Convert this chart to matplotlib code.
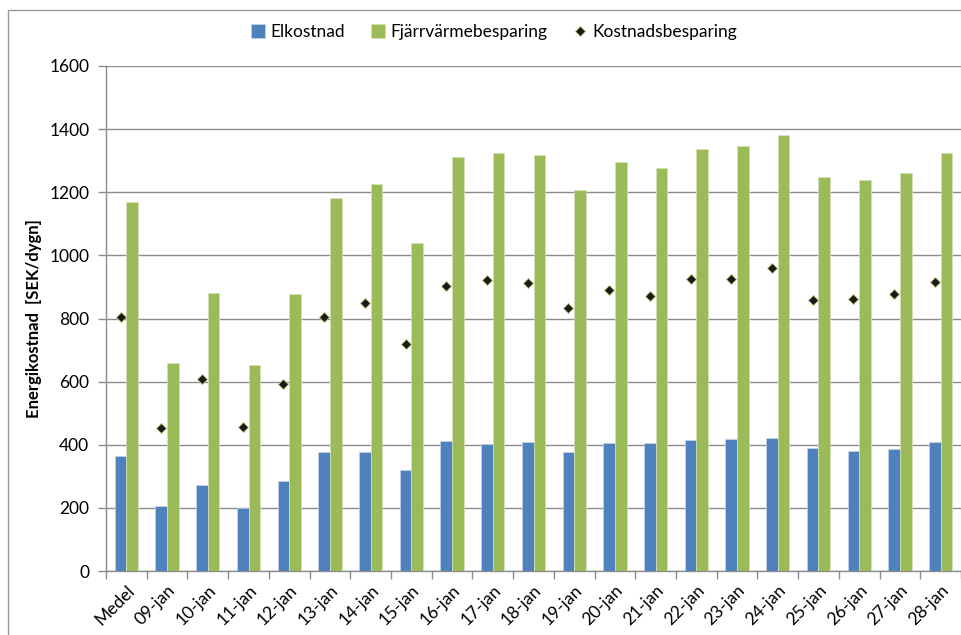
import numpy as np
import matplotlib
matplotlib.use("Agg")
import matplotlib.pyplot as plt
from matplotlib.patches import Rectangle

plt.rcParams['font.family'] = ['Lato', 'DejaVu Sans']

categories = ["Medel", "09-jan", "10-jan", "11-jan", "12-jan", "13-jan", "14-jan",
              "15-jan", "16-jan", "17-jan", "18-jan", "19-jan", "20-jan", "21-jan",
              "22-jan", "23-jan", "24-jan", "25-jan", "26-jan", "27-jan", "28-jan"]
elkostnad = [364, 207, 271, 200, 286, 376, 378, 320, 411, 403, 410, 376, 405, 405,
             414, 419, 422, 391, 380, 385, 410]
fjarrvarme = [1169, 659, 880, 653, 878, 1181, 1225, 1038, 1312, 1325, 1319, 1208,
              1295, 1276, 1336, 1345, 1382, 1248, 1240, 1261, 1323]
kostnadsbesparing = [806, 454, 609, 455, 592, 806, 849, 720, 903, 923, 911, 833,
                     889, 870, 924, 926, 960, 860, 861, 877, 916]
yticks = [0, 200, 400, 600, 800, 1000, 1200, 1400, 1600]

W, H = 962, 635
fig = plt.figure(figsize=(W / 100, H / 100), dpi=100)
ax = fig.add_axes([106 / W, (H - 571) / H, 855 / W, 505 / H])

x = np.arange(len(categories))
bw = 0.287
blue = "#4f81bd"
green = "#9bbb59"
b1 = ax.bar(x - bw / 2, elkostnad, bw, color=blue, edgecolor="#c5d5ea", linewidth=0.5,
            label="Elkostnad", zorder=3)
b2 = ax.bar(x + bw / 2, fjarrvarme, bw, color=green, edgecolor="#d4e3b8", linewidth=0.5,
            label="Fjärrvärmebesparing", zorder=3)
l1, = ax.plot(x - bw / 2, kostnadsbesparing, linestyle="none", marker="D", markersize=5.5,
              markerfacecolor="#1a1a1a", markeredgecolor="#b5c86a", markeredgewidth=0.6,
              label="Kostnadsbesparing", zorder=4)

fs = 12.5
ax.set_xlim(-0.5, len(categories) - 0.5)
ax.set_ylim(0, 1600)
ax.set_yticks(yticks)
ax.set_yticklabels([str(v) for v in yticks], fontsize=fs)
ax.yaxis.grid(True, color="#8c8c8c", linewidth=1.0, zorder=0)
ax.set_axisbelow(True)

ax.set_xticks(x)
ax.set_xticklabels(categories, rotation=45, ha="right", rotation_mode="anchor",
                   fontsize=fs)
ax.set_xticks(np.arange(len(categories) + 1) - 0.5, minor=True)
ax.tick_params(axis="x", which="major", length=0, pad=8)
ax.tick_params(axis="x", which="minor", length=6, color="#8c8c8c", width=1)
ax.tick_params(axis="y", length=6, color="#8c8c8c", width=1, pad=6)

for side in ["top", "right"]:
    ax.spines[side].set_visible(False)
for side in ["left", "bottom"]:
    ax.spines[side].set_color("#8c8c8c")
    ax.spines[side].set_linewidth(1)

ax.set_ylabel("Energikostnad  [SEK/dygn]", fontsize=12, fontweight="bold")
ax.yaxis.set_label_coords(-64 / 855, 0.5)

fig.legend([b1, b2, l1], ["Elkostnad", "Fjärrvärmebesparing", "Kostnadsbesparing"],
           loc="center", bbox_to_anchor=(494 / W, 1 - 32 / H), ncol=3,
           frameon=False, fontsize=fs, handlelength=0.8, handleheight=0.8,
           handletextpad=0.3, columnspacing=1.5, markerscale=0.9)

fig.patches.append(Rectangle((8 / W, -0.1), 1.2, 1.1 - 10 / H, transform=fig.transFigure,
                             fill=False, edgecolor="#9a9a9a", linewidth=1.0))

fig.savefig("out.png", dpi=100)
